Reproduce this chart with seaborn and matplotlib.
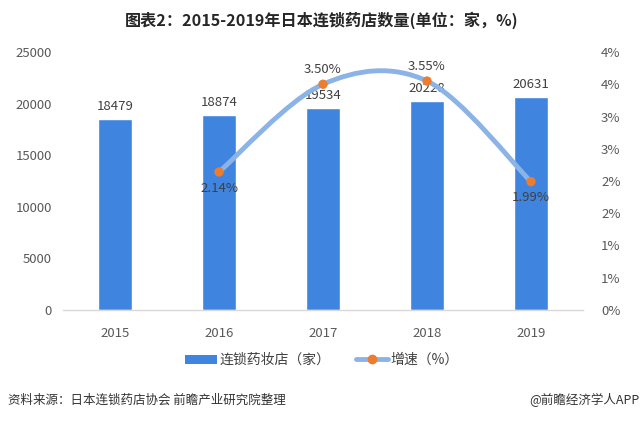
import numpy as np
import pandas as pd
import matplotlib
matplotlib.use("Agg")
import matplotlib.pyplot as plt
import seaborn as sns
from matplotlib.path import Path
from matplotlib.patches import PathPatch
from matplotlib.ticker import FixedLocator, FuncFormatter
from matplotlib.lines import Line2D
from matplotlib.patches import Patch

years = ["2015", "2016", "2017", "2018", "2019"]
stores = [18479, 18874, 19534, 20228, 20631]
growth_years = ["2016", "2017", "2018", "2019"]
growth = [2.14, 3.50, 3.55, 1.99]
growth_labels = ["2.14%", "3.50%", "3.55%", "1.99%"]
growth_label_pos = ["below", "above", "above", "below"]

title = "图表2：2015-2019年日本连锁药店数量(单位：家，%)"
bar_name = "连锁药妆店（家）"
line_name = "增速（%）"
source = "资料来源：日本连锁药店协会 前瞻产业研究院整理"
brand = "@前瞻经济学人APP"

sns.set_theme(style="white")
plt.rcParams["font.family"] = ["Noto Sans CJK SC", "DejaVu Sans"]

BAR = "#3F84DF"
LINE = "#8CB3E6"
MARK = "#EC7C30"
TXT = "#404040"
TICK = "#595959"

fig = plt.figure(figsize=(6.44, 4.21), dpi=100)
ax = fig.add_axes([63/644, 1-310/421, 520/644, 258/421])

df = pd.DataFrame({"year": years, "stores": stores})
sns.barplot(data=df, x="year", y="stores", color=BAR, width=0.32, ax=ax,
            saturation=1)
ax.set_ylim(0, 25000)
ax.set_xlim(-0.5, 4.5)
ax.set_yticks(np.arange(0, 25001, 5000))
ax.set_xlabel("")
ax.set_ylabel("")
for s in ["top", "right", "left"]:
    ax.spines[s].set_visible(False)
ax.spines["bottom"].set_color("#D9D9D9")
ax.spines["bottom"].set_linewidth(1)
ax.tick_params(axis="both", length=0, labelsize=9.5, colors=TICK, pad=8)
ax.tick_params(axis="x", pad=12)
for i, v in enumerate(stores):
    ax.text(i, v + 600, str(v), ha="center", va="bottom", fontsize=9.5, color=TXT)

ax2 = ax.twinx()
ax2.set_position(ax.get_position())
ax2.set_ylim(0, 4)
ax2.yaxis.set_major_locator(FixedLocator(np.arange(0, 4.01, 0.5)))
ax2.yaxis.set_major_formatter(FuncFormatter(lambda v, p: f"{int(np.floor(v + 0.5))}%"))
for s in ax2.spines.values():
    s.set_visible(False)
ax2.tick_params(axis="y", length=0, labelsize=9.5, colors=TICK, pad=13)
ax2.grid(False)

# smoothed line (Catmull-Rom -> cubic Bezier) through growth points
xs = np.array([years.index(y) for y in growth_years], dtype=float)
ys = np.array(growth, dtype=float)
pts = np.column_stack([xs, ys])
ext = np.vstack([pts[0], pts, pts[-1]])
verts = [tuple(pts[0])]
codes = [Path.MOVETO]
for i in range(1, len(ext) - 2):
    p0, p1, p2, p3 = ext[i-1], ext[i], ext[i+1], ext[i+2]
    c1 = p1 + (p2 - p0) / 6
    c2 = p2 - (p3 - p1) / 6
    verts += [tuple(c1), tuple(c2), tuple(p2)]
    codes += [Path.CURVE4] * 3
ax2.add_patch(PathPatch(Path(verts, codes), fill=False, edgecolor=LINE,
                        lw=3.5, capstyle="round", zorder=3))
gdf = pd.DataFrame({"x": xs, "g": ys})
sns.scatterplot(data=gdf, x="x", y="g", color=MARK, s=45, edgecolor="none",
                ax=ax2, zorder=4, legend=False)
ax2.set_xlabel("")
ax2.set_ylabel("")
for x, y, lab, pos in zip(xs, ys, growth_labels, growth_label_pos):
    if pos == "above":
        ax2.annotate(lab, (x, y), xytext=(0, 6), textcoords="offset points",
                     ha="center", va="bottom", fontsize=9.5, color=TXT, zorder=5)
    else:
        ax2.annotate(lab, (x, y), xytext=(0, -7), textcoords="offset points",
                     ha="center", va="top", fontsize=9.5, color=TXT, zorder=5)

fig.text(0.5, 1-20/421, title, ha="center", va="center", fontsize=11.6,
         fontweight="bold", color="#262626")

handles = [Patch(facecolor=BAR, edgecolor="none"),
           Line2D([0], [0], color=LINE, lw=3.5, marker="o", markersize=6,
                  markerfacecolor=MARK, markeredgecolor=MARK)]
fig.legend(handles, [bar_name, line_name], loc="center",
           bbox_to_anchor=(0.5, 1-360/421), ncol=2, frameon=False,
           fontsize=10, handlelength=2.3, handleheight=0.6, columnspacing=1.8,
           handletextpad=0.2, labelcolor=TXT)

fig.text(8/644, 1-400/421, source, ha="left", va="center", fontsize=9, color="#333333")
fig.text(640/644, 1-400/421, brand, ha="right", va="center", fontsize=9, color="#333333")

fig.savefig("out.png", dpi=100)
